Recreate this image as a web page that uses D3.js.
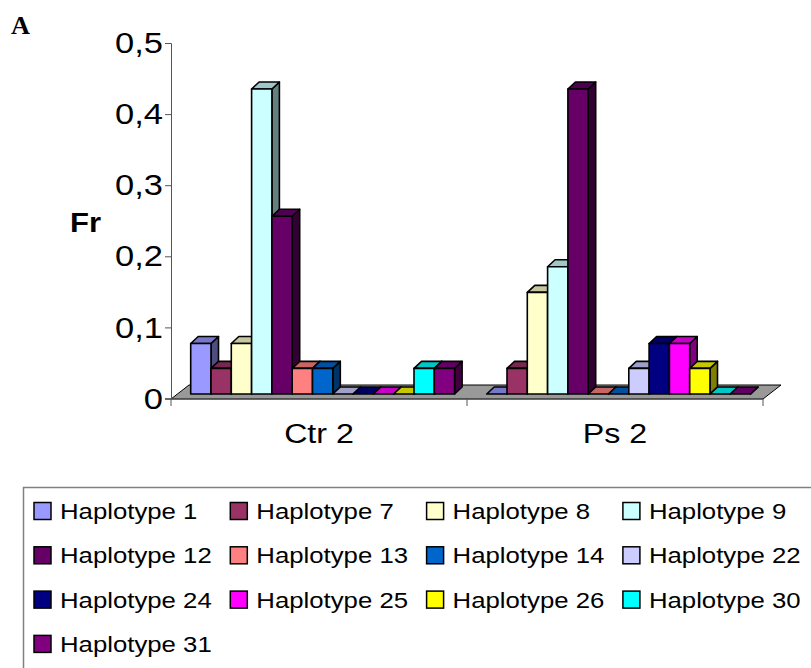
<!DOCTYPE html>
<html>
<head>
<meta charset="utf-8">
<script src="https://cdn.jsdelivr.net/npm/d3@7"></script>
<style>
  html, body { margin: 0; padding: 0; background: #fff; }
  svg { display: block; font-family: "Liberation Sans", Arial, sans-serif; }
</style>
</head>
<body>
<svg id="chart" width="811" height="668"></svg>
<script>
// Haplotype frequencies per sample group
const groups = ["Ctr 2", "Ps 2"];
const haplotypes = ["Haplotype 1", "Haplotype 7", "Haplotype 8", "Haplotype 9",
  "Haplotype 12", "Haplotype 13", "Haplotype 14", "Haplotype 22",
  "Haplotype 24", "Haplotype 25", "Haplotype 26", "Haplotype 30", "Haplotype 31"];
const ctr2 = [0.071, 0.036, 0.071, 0.429, 0.25, 0.036, 0.036, 0, 0, 0, 0, 0.036, 0.036];
const ps2  = [0, 0.036, 0.143, 0.179, 0.429, 0, 0, 0.036, 0.071, 0.071, 0.036, 0, 0];
const colors = ["#9999FF", "#993366", "#FFFFCC", "#CCFFFF", "#660066", "#FF8080",
  "#0066CC", "#CCCCFF", "#000080", "#FF00FF", "#FFFF00", "#00FFFF", "#800080"];
const yTicks = [0, 0.1, 0.2, 0.3, 0.4, 0.5];

const seriesByGroup = { "Ctr 2": ctr2, "Ps 2": ps2 };
const svg = d3.select("#chart");
const SX = 1.15; // horizontal text stretch

const locale = d3.formatLocale({ decimal: ",", thousands: ".", grouping: [3], currency: ["", ""] });
const fmt = locale.format(".1~f");

// Scales
const x0 = d3.scaleBand().domain(groups).range([171, 763]);
const x1 = d3.scaleBand().domain(haplotypes).range([19.7, 283.6]);
const y = d3.scaleLinear().domain([0, 0.5]).range([398.5, 43]);
const color = d3.scaleOrdinal().domain(haplotypes).range(colors);

// Depth of the floor and of each bar
const floorDX = 18, floorDY = -14;
const barDX = 7.5, barDY = -7;
const barShiftY = -4.5;

// Floor
const fx0 = x0.range()[0], fx1 = x0.range()[1], fy = y(0) + 0.5;
svg.append("polygon")
  .attr("points", [[fx0, fy], [fx1, fy], [fx1 + floorDX, fy + floorDY], [fx0 + floorDX, fy + floorDY]].join(" "))
  .attr("fill", "#999999").attr("stroke", "#000").attr("stroke-width", 1);

// Y axis
const yAxis = svg.append("g").attr("transform", "translate(171,0)")
  .call(d3.axisLeft(y).tickValues(yTicks).tickFormat(fmt).tickSize(6).tickPadding(1));
yAxis.select(".domain").attr("stroke", "#555");
yAxis.selectAll(".tick line").attr("stroke", "#555");
yAxis.selectAll(".tick text").attr("font-size", 30).attr("fill", "#000")
  .attr("transform", `scale(${SX},1)`);

// X axis line and group dividers
svg.append("line").attr("x1", 165).attr("x2", fx1).attr("y1", fy).attr("y2", fy)
  .attr("stroke", "#555");
[fx0, x0("Ps 2"), fx1].forEach(xv => {
  svg.append("line").attr("x1", xv).attr("x2", xv).attr("y1", fy).attr("y2", fy + 7)
    .attr("stroke", "#555");
});
groups.forEach(g => {
  svg.append("text").attr("transform", `translate(${x0(g) + x0.bandwidth() / 2},443) scale(${SX},1)`)
    .attr("text-anchor", "middle").attr("font-size", 28).text(g);
});

// 3D bars
const shade = (c, k) => { const r = d3.rgb(c); return d3.rgb(r.r * k, r.g * k, r.b * k).formatHex(); };
groups.forEach(g => {
  const vals = seriesByGroup[g];
  haplotypes.forEach((h, i) => {
    const xl = x0(g) + x1(h), xr = xl + x1.bandwidth();
    const yb = y(0) + barShiftY, yt = y(vals[i]) + barShiftY;
    const c = color(h);
    const bar = svg.append("g").attr("stroke", "#000").attr("stroke-width", 1.6).attr("stroke-linejoin", "round");
    bar.append("polygon")
      .attr("points", [[xr, yb], [xr + barDX, yb + barDY], [xr + barDX, yt + barDY], [xr, yt]].join(" "))
      .attr("fill", shade(c, 0.5));
    bar.append("polygon")
      .attr("points", [[xl, yt], [xr, yt], [xr + barDX, yt + barDY], [xl + barDX, yt + barDY]].join(" "))
      .attr("fill", shade(c, 0.78));
    if (vals[i] > 0) {
      bar.append("rect").attr("x", xl).attr("y", yt).attr("width", xr - xl).attr("height", yb - yt)
        .attr("fill", c);
    }
  });
});

// Axis title and panel letter
svg.append("text").attr("transform", `translate(70,232) scale(${SX},1)`)
  .attr("font-size", 27).attr("font-weight", "bold").text("Fr");
svg.append("text").attr("transform", "translate(11,34) scale(1.05,1)")
  .attr("font-family", "'Liberation Serif', 'Times New Roman', serif")
  .attr("font-size", 25).attr("font-weight", "bold").text("A");

// Legend
const legend = svg.append("g");
legend.append("rect").attr("x", 23.5).attr("y", 487.5).attr("width", 900).attr("height", 300)
  .attr("fill", "none").attr("stroke", "#808080").attr("stroke-width", 1.5);
haplotypes.forEach((h, i) => {
  const col = i % 4, row = Math.floor(i / 4);
  const lx = 34 + col * 196.3, ly = 502.5 + row * 44.3;
  legend.append("rect").attr("x", lx).attr("y", ly).attr("width", 17).attr("height", 17)
    .attr("fill", color(h)).attr("stroke", "#000").attr("stroke-width", 1.5);
  legend.append("text").attr("transform", `translate(${lx + 26},${ly + 16.5}) scale(${SX},1)`)
    .attr("font-size", 22.4).text(h);
});
</script>
</body>
</html>
